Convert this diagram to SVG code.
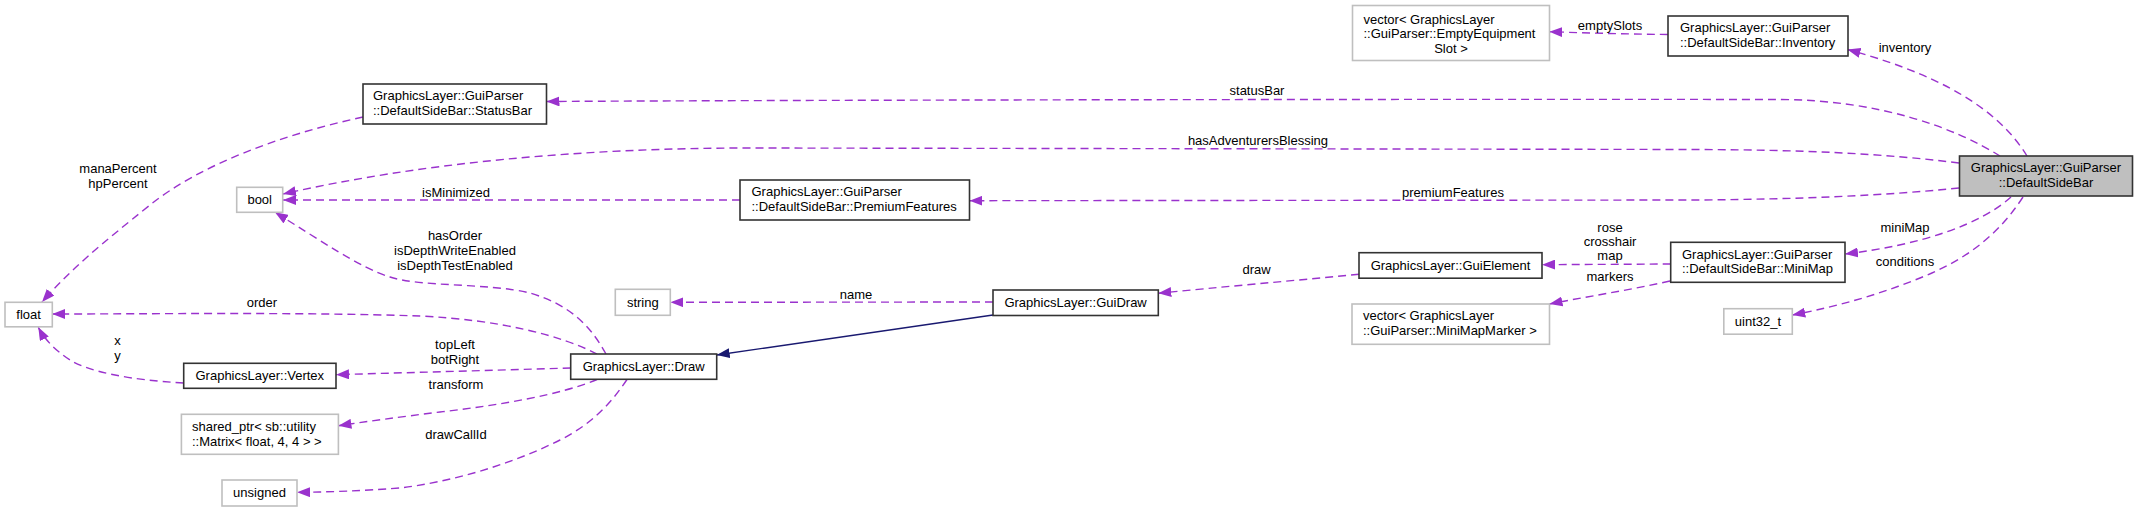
<svg xmlns="http://www.w3.org/2000/svg" width="2137" height="512" viewBox="0 0 2137 512">
<style>
text{font-family:"Liberation Sans",Arial,Helvetica,sans-serif;font-size:13px;fill:#000}
.m{text-anchor:middle}
.n rect{fill:#fff;stroke:#333;stroke-width:1.6}
.n.g rect{stroke:#bfbfbf}
.n.root rect{fill:#bfbfbf}
.e{fill:none;stroke:#9a32cd;stroke-width:1.4;stroke-dasharray:8,5;marker-end:url(#ap)}
.inh{fill:none;stroke:#191970;stroke-width:1.4;marker-end:url(#an)}
</style>
<defs>
<marker id="ap" viewBox="0 0 13 10" refX="13" refY="5" markerWidth="13" markerHeight="10" markerUnits="userSpaceOnUse" orient="auto"><path d="M0,0 L13,5 L0,10 z" fill="#9a32cd"/></marker>
<marker id="an" viewBox="0 0 13 10" refX="13" refY="5" markerWidth="13" markerHeight="10" markerUnits="userSpaceOnUse" orient="auto"><path d="M0,0 L13,5 L0,10 z" fill="#191970"/></marker>
</defs>
<rect width="2137" height="512" fill="#fff"/>
<g id="edges">
<path class="e" d="M2000,156 C1955,128 1880,100 1780,99.5 C1400,99 800,100 546.5,101.5"/>
<text class="m" x="1257" y="95">statusBar</text>
<path class="e" d="M1959,163 C1880,153 1800,150 1700,149.5 L750,148 C580,148 420,163 283,194"/>
<text class="m" x="1258" y="145">hasAdventurersBlessing</text>
<path class="e" d="M1959,188 C1880,196 1800,199 1700,200 L969.5,200.7"/>
<text class="m" x="1453" y="197">premiumFeatures</text>
<path class="e" d="M740,200 L283,200"/>
<text class="m" x="456" y="196.5">isMinimized</text>
<path class="e" d="M1668,34.5 C1620,34 1590,33 1549.3,31.7"/>
<text class="m" x="1610" y="29.5">emptySlots</text>
<path class="e" d="M2027,156 C2005,120 1960,80 1847.5,49.5"/>
<text class="m" x="1905" y="52">inventory</text>
<path class="e" d="M2011,197 C1980,225 1920,245 1845,254"/>
<text class="m" x="1905" y="232">miniMap</text>
<path class="e" d="M2023,197 C1995,240 1960,262 1920,278 C1880,294 1840,306 1792.3,315"/>
<text class="m" x="1905" y="265.5">conditions</text>
<path class="e" d="M1670.7,264 L1542,264.7"/>
<text class="m" x="1610" y="231.5">rose</text>
<text class="m" x="1610" y="245.5">crosshair</text>
<text class="m" x="1610" y="259.5">map</text>
<path class="e" d="M1670,281 C1630,290 1590,296 1549.5,304"/>
<text class="m" x="1610" y="281">markers</text>
<path class="e" d="M1359,274.3 C1290,281 1220,287 1158.3,293.3"/>
<text class="m" x="1256.5" y="273.5">draw</text>
<path class="e" d="M993,302 L670.4,302.3"/>
<text class="m" x="856" y="299">name</text>
<path class="inh" d="M993,315 L716.7,355"/>
<path class="e" d="M606,354 C590,325 570,305 530,293 C490,283 420,287 390,277 C360,268 320,240 275,212.3"/>
<text class="m" x="455" y="239.5">hasOrder</text>
<text class="m" x="455" y="254.5">isDepthWriteEnabled</text>
<text class="m" x="455" y="269.5">isDepthTestEnabled</text>
<path class="e" d="M597,354 C560,335 500,320 420,316 C300,312 150,314 52.3,314"/>
<text class="m" x="262" y="306.5">order</text>
<path class="e" d="M363,117 C280,135 200,165 150,205 C100,245 70,270 42,302"/>
<text class="m" x="118" y="172.5">manaPercent</text>
<text class="m" x="118" y="187.5">hpPercent</text>
<path class="e" d="M183.7,383 C130,380 90,372 70,360 C55,350 45,340 38.3,327.3"/>
<text class="m" x="117.5" y="344.5">x</text>
<text class="m" x="117.5" y="360">y</text>
<path class="e" d="M570.7,368 L336,374.7"/>
<text class="m" x="455" y="349">topLeft</text>
<text class="m" x="455" y="364">botRight</text>
<path class="e" d="M597,379.5 C560,395 500,405 440,412 C400,417 370,421 338.4,425.7"/>
<text class="m" x="456" y="389">transform</text>
<path class="e" d="M627,379.5 C610,405 590,425 560,440 C510,465 450,482 400,488 C360,491 330,492 297,492.3"/>
<text class="m" x="456" y="438.5">drawCallId</text>
</g>
<g id="n_DefaultSideBar" class="n root"><rect x="1959.5" y="156" width="173" height="40"/><text class="m" x="2046" y="172">GraphicsLayer::GuiParser</text><text class="m" x="2046" y="187">::DefaultSideBar</text></g>
<g id="n_Inventory" class="n"><rect x="1668" y="16" width="180" height="40"/><text x="1680" y="32">GraphicsLayer::GuiParser</text><text x="1680" y="46.5">::DefaultSideBar::Inventory</text></g>
<g id="n_EmptySlots" class="n g"><rect x="1352.5" y="5.5" width="197" height="55"/><text x="1363.5" y="23.5">vector&lt; GraphicsLayer</text><text x="1363.5" y="38">::GuiParser::EmptyEquipment</text><text class="m" x="1451" y="52.5">Slot &gt;</text></g>
<g id="n_StatusBar" class="n"><rect x="363" y="84" width="183.5" height="40"/><text x="373" y="100">GraphicsLayer::GuiParser</text><text x="373" y="114.5">::DefaultSideBar::StatusBar</text></g>
<g id="n_bool" class="n g"><rect x="236.7" y="187.3" width="46" height="25"/><text class="m" x="259.7" y="204">bool</text></g>
<g id="n_PremiumFeatures" class="n"><rect x="740" y="180" width="229.5" height="40"/><text x="751.5" y="196">GraphicsLayer::GuiParser</text><text x="751.5" y="210.5">::DefaultSideBar::PremiumFeatures</text></g>
<g id="n_float" class="n g"><rect x="5" y="302.3" width="47.3" height="24.5"/><text class="m" x="28.6" y="319">float</text></g>
<g id="n_string" class="n g"><rect x="615.3" y="289.3" width="55" height="26"/><text class="m" x="642.8" y="306.5">string</text></g>
<g id="n_GuiDraw" class="n"><rect x="993" y="290" width="165.3" height="25.5"/><text class="m" x="1075.6" y="307">GraphicsLayer::GuiDraw</text></g>
<g id="n_GuiElement" class="n"><rect x="1359" y="252.7" width="183" height="25.5"/><text class="m" x="1450.5" y="270">GraphicsLayer::GuiElement</text></g>
<g id="n_MiniMap" class="n"><rect x="1670.7" y="242.3" width="174.3" height="40"/><text x="1682" y="259">GraphicsLayer::GuiParser</text><text x="1682" y="273">::DefaultSideBar::MiniMap</text></g>
<g id="n_MiniMapMarker" class="n g"><rect x="1352" y="304" width="197.5" height="40.3"/><text x="1363" y="320">vector&lt; GraphicsLayer</text><text x="1363" y="335">::GuiParser::MiniMapMarker &gt;</text></g>
<g id="n_uint32" class="n g"><rect x="1723.8" y="308.7" width="68.5" height="25.5"/><text class="m" x="1758" y="325.5">uint32_t</text></g>
<g id="n_Vertex" class="n"><rect x="183.7" y="363.3" width="152.3" height="25"/><text class="m" x="259.8" y="379.5">GraphicsLayer::Vertex</text></g>
<g id="n_Draw" class="n"><rect x="570.7" y="354" width="146" height="25.3"/><text class="m" x="643.7" y="370.5">GraphicsLayer::Draw</text></g>
<g id="n_shared_ptr" class="n g"><rect x="181.4" y="414.3" width="157" height="40"/><text x="192" y="431">shared_ptr&lt; sb::utility</text><text x="192" y="445.5">::Matrix&lt; float, 4, 4 &gt; &gt;</text></g>
<g id="n_unsigned" class="n g"><rect x="222" y="480" width="75" height="26"/><text class="m" x="259.5" y="497">unsigned</text></g>
</svg>
